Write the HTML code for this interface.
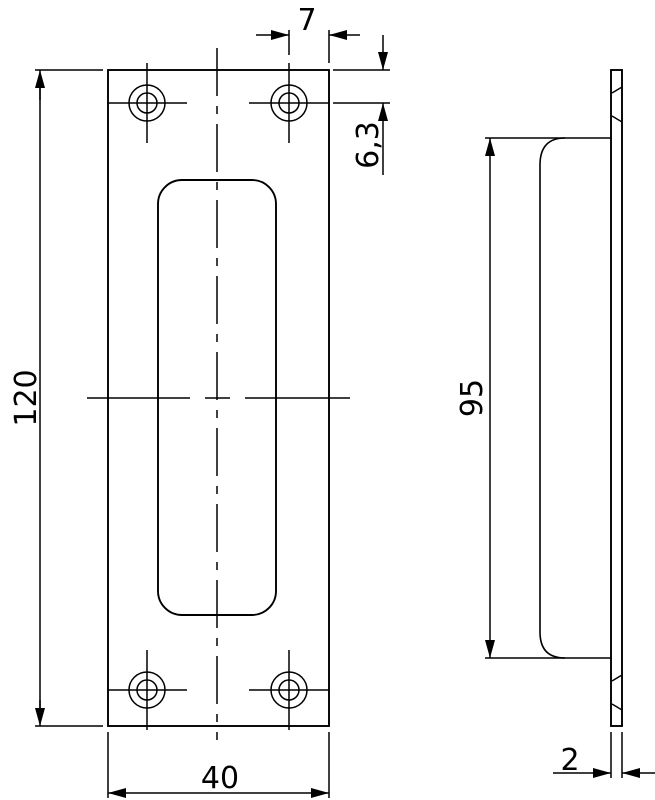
<!DOCTYPE html>
<html><head><style>body{margin:0;background:#fff}svg{display:block}</style></head><body>
<svg width="655" height="800" viewBox="0 0 655 800" xmlns="http://www.w3.org/2000/svg" font-family="DejaVu Sans, Liberation Sans, sans-serif">
<defs><marker id="a" viewBox="0 0 18 10" refX="18" refY="5" markerWidth="18" markerHeight="10" markerUnits="userSpaceOnUse" orient="auto"><path d="M0,0L18,5L0,10z" fill="#000"/></marker></defs>
<g stroke="#000" stroke-width="1.9" fill="none">
<rect x="108" y="70" width="221" height="656"/>
<rect x="158" y="180" width="118" height="435" rx="24"/>
<line x1="217" y1="48" x2="217" y2="740" stroke-dasharray="48,10,8,10" stroke-width="1.5"/>
<path d="M87,398H190M205,398H230M245,398H350" stroke-width="1.5"/>
<g stroke-width="1.5">
<circle cx="147" cy="103" r="18"/><circle cx="147" cy="103" r="10"/>
<circle cx="289" cy="103" r="18"/><circle cx="289" cy="103" r="10"/>
<circle cx="147" cy="690" r="18"/><circle cx="147" cy="690" r="10"/>
<circle cx="289" cy="690" r="18"/><circle cx="289" cy="690" r="10"/>
<path d="M107,103H187M147,63V143M249,103H329M289,63V143M107,690H187M147,650V730M249,690H329M289,650V730"/>
<path d="M289,30V55"/>
</g>
<g stroke-width="1.5">
<path d="M35,70H103M35,726H103M108,732V798M329,732V798M329,30V63M333,70H390M333,103H390"/>
<line x1="40" y1="80" x2="40" y2="716" />
<line x1="40" y1="100" x2="40" y2="70" marker-end="url(#a)"/>
<line x1="40" y1="700" x2="40" y2="726" marker-end="url(#a)"/>
<line x1="150" y1="793" x2="108" y2="793" marker-end="url(#a)"/>
<line x1="290" y1="793" x2="329" y2="793" marker-end="url(#a)"/>
<line x1="150" y1="793" x2="290" y2="793"/>
<line x1="256" y1="35" x2="289" y2="35" marker-end="url(#a)"/>
<line x1="360" y1="35" x2="329" y2="35" marker-end="url(#a)"/>
<line x1="383" y1="35" x2="383" y2="70" marker-end="url(#a)"/>
<line x1="383" y1="175" x2="383" y2="103" marker-end="url(#a)"/>
<path d="M485,138H611M485,658H611M611,732V778M622,732V778"/>
<line x1="490" y1="400" x2="490" y2="138" marker-end="url(#a)"/>
<line x1="490" y1="400" x2="490" y2="658" marker-end="url(#a)"/>
<line x1="553" y1="773" x2="611" y2="773" marker-end="url(#a)"/>
<line x1="655" y1="773" x2="622" y2="773" marker-end="url(#a)"/>
</g>
<rect x="611" y="70" width="11" height="656"/>
<path d="M565,138Q540,138 540,165V632Q540,658 565,658" stroke-width="1.6"/>
<path d="M612,93L622,87M612,116L622,122M612,681L622,675M612,704L622,710" stroke-width="1.4"/>
</g>
<g font-size="30" fill="#000">
<text x="307" y="30" text-anchor="middle">7</text>
<text x="220" y="788" text-anchor="middle">40</text>
<text x="570" y="770" text-anchor="middle">2</text>
<text transform="translate(36,398) rotate(-90)" text-anchor="middle">120</text>
<text transform="translate(482,398) rotate(-90)" text-anchor="middle">95</text>
<text transform="translate(378,145) rotate(-90)" text-anchor="middle">6,3</text>
</g>
</svg>
</body></html>
